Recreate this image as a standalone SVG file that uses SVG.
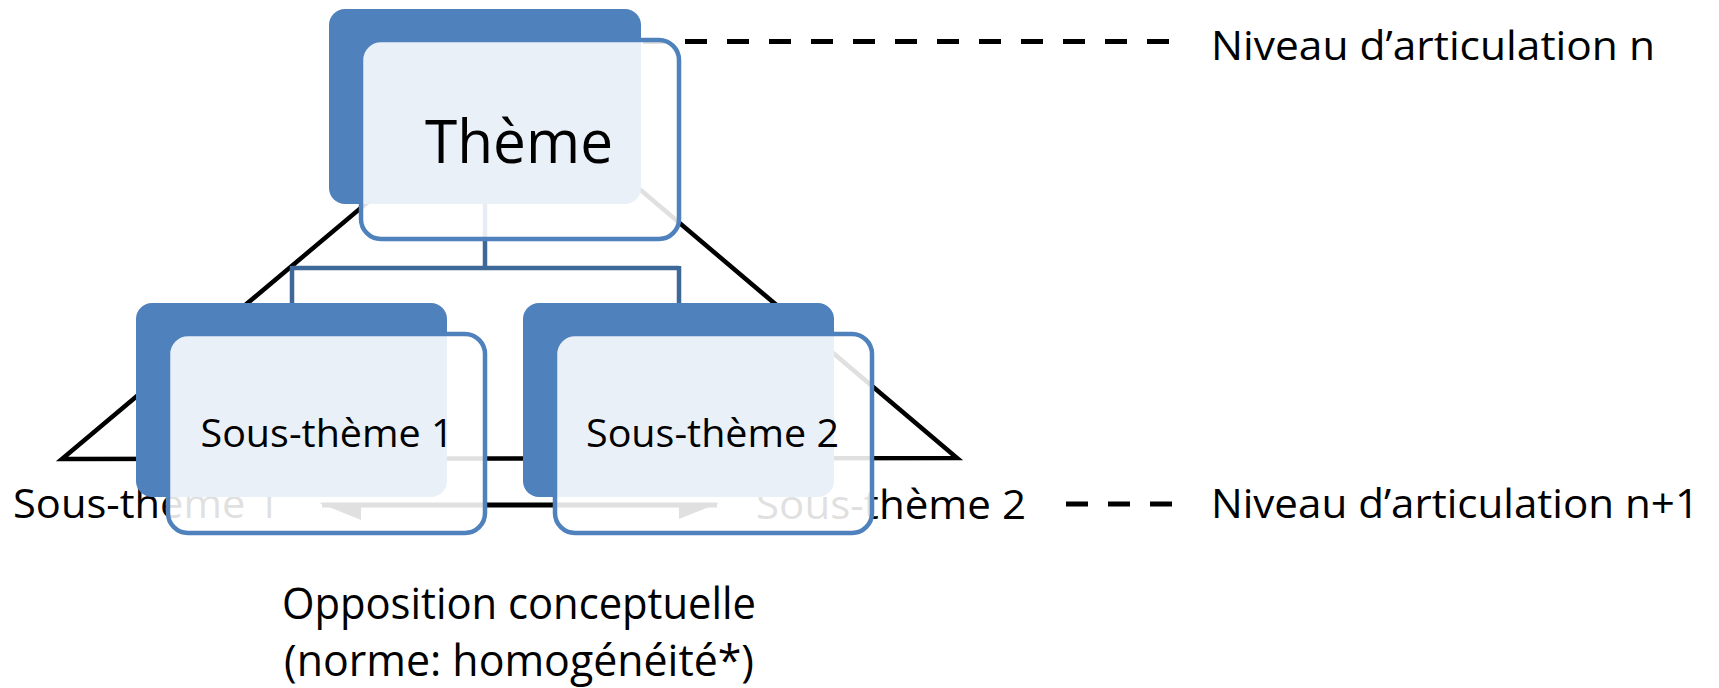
<svg xmlns="http://www.w3.org/2000/svg" width="1719" height="688" viewBox="0 0 1719 688">
<defs>
<style>
.t{font-family:"Open Sans","Noto Sans","Liberation Sans",sans-serif;fill:#000}
.back{fill:#4f81bd}
.front{fill:#ffffff;fill-opacity:0.88;stroke:#4f81bd;stroke-width:4.5}
.ln{stroke:#000;stroke-width:4.5;fill:none;stroke-linejoin:miter;stroke-miterlimit:20}
.dash{stroke:#000;stroke-width:5;stroke-dasharray:22 20;fill:none}
.conn{stroke:#3e6898;stroke-width:4.5;fill:none}
</style>
</defs>
<rect width="1719" height="688" fill="#ffffff"/>
<g id="triangle">
<polygon class="ln" points="512,81 957,458 62,459"/>
</g>
<g id="level-labels">
<text class="t" x="13" y="518" font-size="40" textLength="267" lengthAdjust="spacingAndGlyphs">Sous-thème 1</text>
<text class="t" x="756" y="519" font-size="40" textLength="270" lengthAdjust="spacingAndGlyphs">Sous-thème 2</text>
</g>
<g id="opposition-arrow">
<rect x="322" y="502.5" width="395" height="5" fill="#000"/>
<polygon points="319,503 361,503 361,520" fill="#000"/>
<polygon points="719,503 679,503 679,519" fill="#000"/>
</g>
<g id="legend">
<line class="dash" x1="643" y1="41.5" x2="1175" y2="41.5"/>
<line class="dash" x1="1066" y1="504" x2="1175" y2="504"/>
<text class="t" x="1211" y="60" font-size="41" textLength="444" lengthAdjust="spacingAndGlyphs">Niveau d’articulation n</text>
<text class="t" x="1211" y="518" font-size="41" textLength="488" lengthAdjust="spacingAndGlyphs">Niveau d’articulation n+1</text>
</g>
<g id="caption">
<text class="t" x="519" y="619" font-size="43" text-anchor="middle" textLength="474" lengthAdjust="spacingAndGlyphs">Opposition conceptuelle</text>
<text class="t" x="519" y="676" font-size="43" text-anchor="middle" textLength="470" lengthAdjust="spacingAndGlyphs">(norme: homogénéité*)</text>
</g>
<g id="connectors">
<path class="conn" d="M485,200 V268 M292,268 H679 M292,266 V305 M679,266 V305"/>
</g>
<g id="node-theme">
<rect class="back" x="329" y="9" width="312" height="195" rx="16"/>
<rect class="front" x="361" y="40" width="318" height="199" rx="20"/>
<text class="t" x="519" y="163" font-size="61" text-anchor="middle" textLength="188" lengthAdjust="spacingAndGlyphs">Thème</text>
</g>
<g id="node-sous-theme-1">
<rect class="back" x="136" y="303" width="311" height="194" rx="16"/>
<rect class="front" x="168" y="334" width="317" height="199" rx="20"/>
<text class="t" x="327" y="447" font-size="39" text-anchor="middle" textLength="253" lengthAdjust="spacingAndGlyphs">Sous-thème 1</text>
</g>
<g id="node-sous-theme-2">
<rect class="back" x="523" y="303" width="311" height="194" rx="16"/>
<rect class="front" x="555" y="334" width="317" height="199" rx="20"/>
<text class="t" x="712.5" y="447" font-size="39" text-anchor="middle" textLength="253" lengthAdjust="spacingAndGlyphs">Sous-thème 2</text>
</g>
</svg>
